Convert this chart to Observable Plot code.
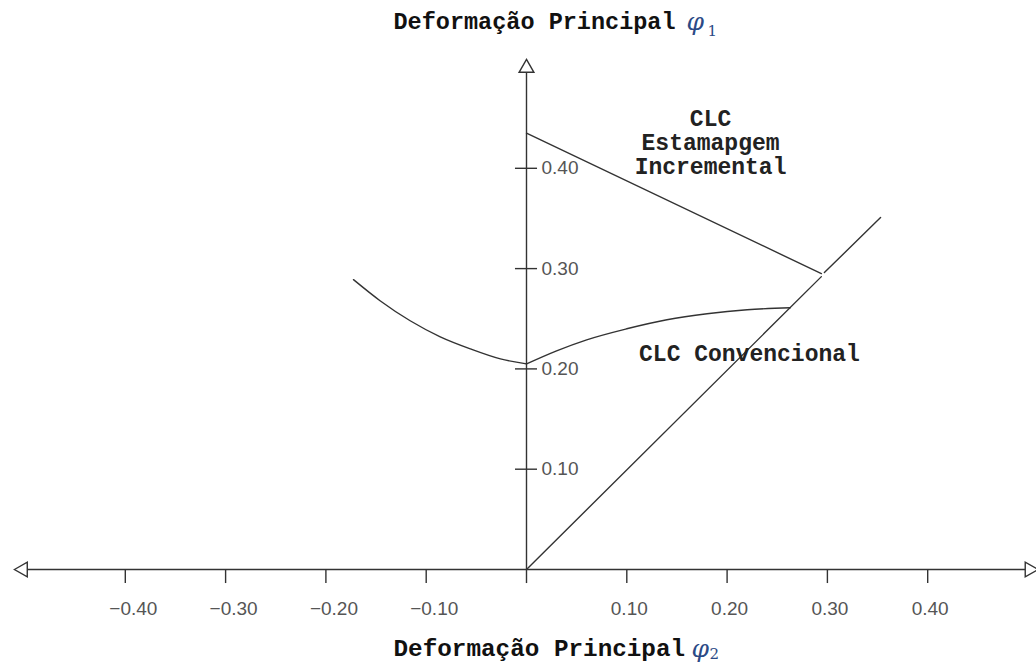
<!DOCTYPE html>
<html>
<head>
<meta charset="utf-8">
<script src="https://cdn.jsdelivr.net/npm/d3@7"></script>
<script src="https://cdn.jsdelivr.net/npm/@observablehq/plot@0.6"></script>
<style>
  html, body { margin: 0; padding: 0; background: #fff; }
  #chart svg { display: block; }
</style>
</head>
<body>
<div id="chart"></div>
<script>
// ---- data ----
const xTicks = [-0.4, -0.3, -0.2, -0.1, 0, 0.1, 0.2, 0.3, 0.4];
const yTicks = [0.1, 0.2, 0.3, 0.4];

// CLC convencional (two branches meeting at phi2 = 0)
const convLeftX  = [-0.1725, -0.146, -0.116, -0.086, -0.056, -0.026, 0];
const convLeftY  = [0.289, 0.268, 0.248, 0.232, 0.220, 0.210, 0.205];
const convRightX = [0, 0.03, 0.06, 0.10, 0.14, 0.18, 0.22, 0.263];
const convRightY = [0.205, 0.218, 0.229, 0.240, 0.249, 0.255, 0.259, 0.261];

// CLC estampagem incremental (straight line)
const incrX = [0, 0.294];
const incrY = [0.435, 0.295];

// plane-strain diagonal phi1 = phi2 (two pieces, small gap)
const diagX = [0, 0.294, 0.297, 0.353];
const diagY = [0, 0.292, 0.296, 0.351];
const diagPiece = ["a", "a", "b", "b"];

// axis extents and arrowheads
const axisXEnds = [-0.4975, 0.4975];
const axisYEnd = 0.4955;
const arrows = [
  {x: -0.502, y: 0, angle: -90},
  {x: 0.5015, y: 0, angle: 90},
  {x: 0, y: 0.5, angle: 0}
];

// annotations
const notes = [
  {x: 0.1835, y: 0.4257, text: "CLC\nEstamapgem\nIncremental"},
  {x: 0.2223, y: 0.2154, text: "CLC Convencional"}
];
const titleText = "Deformação Principal";

// ---- build tables ----
const conv = [
  ...convLeftX.map((x, i) => ({x, y: convLeftY[i], b: "L"})),
  ...convRightX.map((x, i) => ({x, y: convRightY[i], b: "R"}))
];
const incr = incrX.map((x, i) => ({x, y: incrY[i]}));
const diag = diagX.map((x, i) => ({x, y: diagY[i], p: diagPiece[i]}));

const fmt = d3.format(".2f");
const ink = "#333";
const mono = "'Liberation Mono', 'DejaVu Sans Mono', monospace";
const sans = "'Liberation Sans', Arial, sans-serif";
const serif = "'DejaVu Serif', 'Liberation Serif', serif";

const W = 1036, H = 662;
const ox = 526, oy = 569, k = 1003; // origin pixel and px per unit (used for domains)

const chart = Plot.plot({
  width: W,
  height: H,
  margin: 0,
  x: {domain: [-ox / k, (W - ox) / k], axis: null},
  y: {domain: [-(H - oy) / k, oy / k], axis: null},
  style: {background: "#fff"},
  marks: [
    // axes
    Plot.ruleY([0], {x1: axisXEnds[0], x2: axisXEnds[1], stroke: ink, strokeWidth: 1.4}),
    Plot.ruleX([0], {y1: 0, y2: axisYEnd, stroke: ink, strokeWidth: 1.4}),
    Plot.ruleX(xTicks, {x: d => d, y1: 0, y2: -0.014, stroke: ink, strokeWidth: 1.4}),
    Plot.ruleY(yTicks, {y: d => d, x1: -0.011, x2: 0.011, stroke: ink, strokeWidth: 1.4}),
    Plot.dot(arrows, {x: "x", y: "y", rotate: "angle", symbol: "triangle", r: 5.5,
      fill: "#fff", stroke: ink, strokeWidth: 1.4}),
    // tick labels
    Plot.text(xTicks.filter(d => d !== 0), {x: d => d, y: 0, text: d => fmt(d),
      textAnchor: "start", lineAnchor: "bottom", dx: -16, dy: 45,
      fontFamily: sans, fontSize: 19, fill: "#555"}),
    Plot.text(yTicks, {x: 0, y: d => d, text: d => fmt(d),
      textAnchor: "start", lineAnchor: "middle", dx: 15,
      fontFamily: sans, fontSize: 19, fill: "#555"}),
    // curves
    Plot.line(diag, {x: "x", y: "y", z: "p", stroke: ink, strokeWidth: 1.4}),
    Plot.line(incr, {x: "x", y: "y", stroke: ink, strokeWidth: 1.4}),
    Plot.line(conv, {x: "x", y: "y", z: "b", curve: "monotone-x", stroke: ink, strokeWidth: 1.4}),
    // annotations
    Plot.text(notes, {x: "x", y: "y", text: "text", textAnchor: "middle", lineAnchor: "middle",
      lineHeight: 1.03, fontFamily: mono, fontWeight: "bold", fontSize: 23, fill: "#222"}),
    // titles
    Plot.text([titleText], {frameAnchor: "top-left", text: d => d, textAnchor: "start",
      lineAnchor: "bottom", dx: 393, dy: 28, fontFamily: mono, fontWeight: "bold", fontSize: 23.5, fill: "#111"}),
    Plot.text(["φ"], {frameAnchor: "top-left", text: d => d, textAnchor: "start",
      lineAnchor: "bottom", dx: 686, dy: 29, fontFamily: serif, fontStyle: "italic", fontSize: 25, fill: "#2b4a86"}),
    Plot.text(["1"], {frameAnchor: "top-left", text: d => d, textAnchor: "start",
      lineAnchor: "bottom", dx: 707, dy: 35, fontFamily: serif, fontSize: 15, fill: "#2b4a86"}),
    Plot.text([titleText], {frameAnchor: "bottom-left", text: d => d, textAnchor: "start",
      lineAnchor: "bottom", dx: 393, dy: -7, fontFamily: mono, fontWeight: "bold", fontSize: 24.3, fill: "#111"}),
    Plot.text(["φ"], {frameAnchor: "bottom-left", text: d => d, textAnchor: "start",
      lineAnchor: "bottom", dx: 691, dy: -6, fontFamily: serif, fontStyle: "italic", fontSize: 25, fill: "#2b4a86"}),
    Plot.text(["2"], {frameAnchor: "bottom-left", text: d => d, textAnchor: "start",
      lineAnchor: "bottom", dx: 709, dy: -4, fontFamily: serif, fontSize: 15, fill: "#2b4a86"})
  ]
});
document.getElementById("chart").appendChild(chart);
</script>
</body>
</html>
